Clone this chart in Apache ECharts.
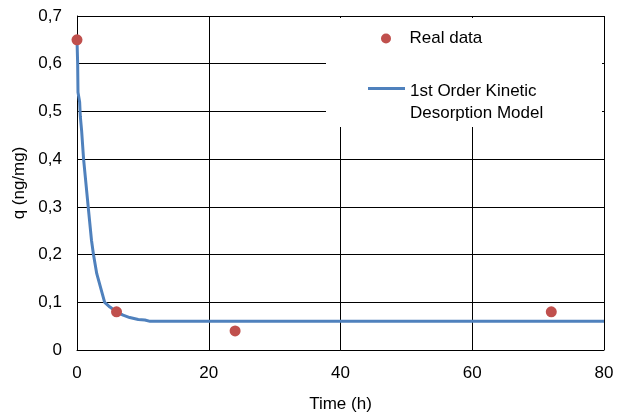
<!DOCTYPE html>
<html>
<head>
<meta charset="utf-8">
<script src="https://cdn.jsdelivr.net/npm/echarts@6/dist/echarts.min.js"></script>
<style>
html, body { margin: 0; padding: 0; background: #fff; }
#chart { width: 618px; height: 413px; }
</style>
</head>
<body>
<div id="chart"></div>
<script>
// measured points
var realTime = [0, 6, 24, 72];
var realQ = [0.65, 0.08, 0.04, 0.08];

// model curve
var modelTime = [0, 0.1, 0.15, 0.4, 0.5, 0.7, 1, 1.7, 2.2, 2.5, 3, 4.2, 5, 6, 7, 8, 9.3, 10.3, 11.1, 80];
var modelQ = [0.65, 0.6, 0.54, 0.52, 0.49, 0.46, 0.4, 0.3, 0.23, 0.2, 0.16, 0.1, 0.09, 0.08, 0.073, 0.068, 0.064, 0.063, 0.06, 0.06];

var realName = 'Real data';
var modelName = '1st Order Kinetic\nDesorption Model';

function pairs(xs, ys) {
	var out = [];
	for (var i = 0; i < xs.length; i++) out.push([xs[i], ys[i]]);
	return out;
}

function comma(v) {
	if (v === 0) return '0';
	return v.toFixed(1).replace('.', ',');
}

var font = 'Liberation Sans';
var fs = 17;
var myChart = echarts.init(document.getElementById('chart'));
var option = {
	animation: false,
	backgroundColor: '#fff',
	textStyle: { fontFamily: font },
	grid: { left: 77, right: 14, top: 16, bottom: 63, outerBoundsMode: 'none' },
	graphic: [{
		type: 'rect',
		z: 3,
		shape: { x: 326, y: 18, width: 276, height: 109 },
		style: { fill: '#fff' }
	}],
	legend: [{
		data: [{ name: realName, icon: 'circle' }],
		left: 381, top: 30, padding: 0,
		itemWidth: 37, itemHeight: 10,
		selectedMode: false,
		textStyle: { fontFamily: font, fontSize: fs, color: '#000' }
	}, {
		data: [{ name: modelName, icon: 'rect' }],
		left: 368, top: 58, padding: 0,
		itemWidth: 37, itemHeight: 3,
		selectedMode: false,
		formatter: function (n) {
			var parts = n.split('\n');
			return '{b|\u00a0}\n{a|' + parts[0] + '}\n{a|' + parts[1] + '}';
		},
		textStyle: {
			fontFamily: font, fontSize: fs, color: '#000',
			rich: {
				a: { fontFamily: font, fontSize: fs, color: '#000', lineHeight: 22 },
				b: { fontFamily: font, fontSize: fs, color: '#000', lineHeight: 28 }
			}
		}
	}],
	xAxis: {
		type: 'value',
		min: 0, max: 80, interval: 20,
		name: 'Time (h)',
		nameLocation: 'middle',
		nameGap: 46,
		nameTextStyle: { fontFamily: font, fontSize: fs, color: '#000' },
		axisLine: { lineStyle: { color: '#000', width: 1 } },
		axisTick: { show: false },
		axisLabel: { fontFamily: font, fontSize: fs, color: '#000', margin: 15 },
		splitLine: { lineStyle: { color: '#000', width: 1 } }
	},
	yAxis: {
		type: 'value',
		min: 0, max: 0.7, interval: 0.1,
		name: 'q (ng/mg)',
		nameLocation: 'middle',
		nameGap: 49,
		nameTextStyle: { fontFamily: font, fontSize: fs, color: '#000' },
		axisLine: { show: true, lineStyle: { color: '#000', width: 1 } },
		axisTick: { show: false },
		axisLabel: { fontFamily: font, fontSize: fs, color: '#000', margin: 15, formatter: comma },
		splitLine: { lineStyle: { color: '#000', width: 1 } }
	},
	series: [{
		name: modelName,
		type: 'line',
		data: pairs(modelTime, modelQ),
		symbol: 'none',
		lineStyle: { color: '#4F81BD', width: 3 },
		itemStyle: { color: '#4F81BD' },
		z: 2
	}, {
		name: realName,
		type: 'scatter',
		data: pairs(realTime, realQ),
		symbol: 'circle',
		symbolSize: 11,
		itemStyle: { color: '#C0504D', opacity: 1 },
		z: 4
	}]
};
myChart.setOption(option);
</script>
</body>
</html>
